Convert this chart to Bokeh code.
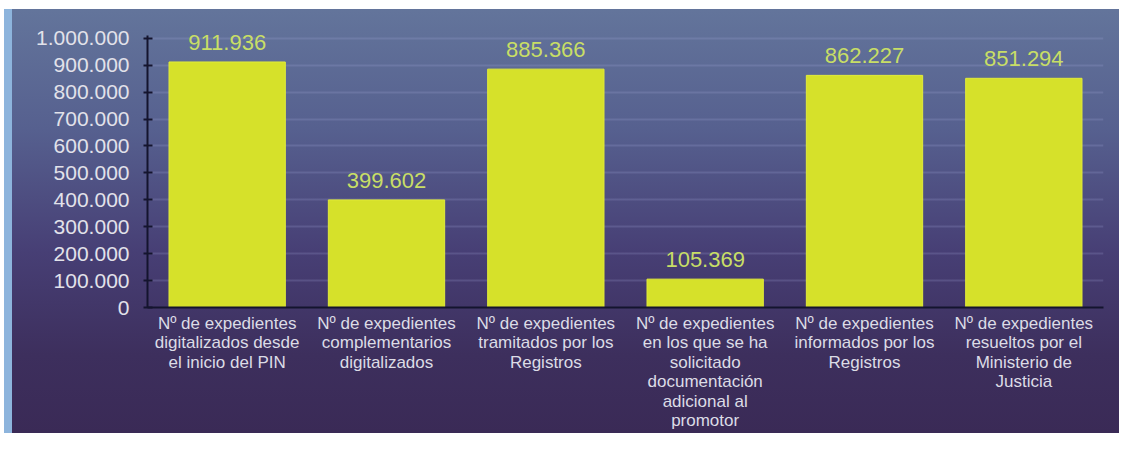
from bokeh.plotting import figure
from bokeh.models import ColumnDataSource, FactorRange, Range1d, FixedTicker, CustomJSTickFormatter
from bokeh.core.properties import value
from bokeh.embed import file_html
from bokeh.resources import INLINE

categories = [
    "Nº de expedientes\ndigitalizados desde\nel inicio del PIN",
    "Nº de expedientes\ncomplementarios\ndigitalizados",
    "Nº de expedientes\ntramitados por los\nRegistros",
    "Nº de expedientes\nen los que se ha\nsolicitado\ndocumentación\nadicional al\npromotor",
    "Nº de expedientes\ninformados por los\nRegistros",
    "Nº de expedientes\nresueltos por el\nMinisterio de\nJusticia",
]
values = [911936, 399602, 885366, 105369, 862227, 851294]
y_ticks = [0, 100000, 200000, 300000, 400000, 500000, 600000, 700000, 800000, 900000, 1000000]

labels = [f"{v:,}".replace(",", ".") for v in values]
src = ColumnDataSource(dict(cat=categories, val=values, lab=labels))

FONT = "Liberation Sans"

p = figure(
    width=1119, height=433,
    x_range=FactorRange(factors=categories, range_padding=0),
    y_range=Range1d(0, 1040000),
    output_backend="svg", toolbar_location=None,
    min_border_left=147, min_border_right=16, min_border_top=27, min_border_bottom=123,
    styles={
        "background-image": "linear-gradient(to bottom, #ffffff 0px, #ffffff 9px, transparent 9px), "
                            "linear-gradient(to right, #ffffff 0px, #ffffff 4px, #8db4dc 4px, #8db4dc 12px, transparent 12px), "
                            "linear-gradient(to bottom, #64769c 0%, #56608f 30%, #473f75 58%, #3d2f5d 82%, #3a2a56 100%)",
    },
)
p.border_fill_color = None
p.background_fill_color = None
p.outline_line_color = None

p.vbar(x="cat", top="val", width=0.73, source=src,
       fill_color="#d6e12a", line_color="#e2ec3a", line_width=1)

p.text(x="cat", y="val", text="lab", source=src,
       text_align="center", text_baseline="bottom", y_offset=-12,
       text_font=value(FONT), text_font_size="22px", text_color="#c8de66")

# grid
p.xgrid.grid_line_color = None
p.ygrid.ticker = FixedTicker(ticks=y_ticks)
p.ygrid.grid_line_color = "#aab0e0"
p.ygrid.grid_line_alpha = 0.2
p.ygrid.grid_line_width = 2
p.ygrid.level = "image"

# y axis
ya = p.yaxis[0]
ya.ticker = FixedTicker(ticks=y_ticks)
ya.bounds = (0, 1012000)
ya.formatter = CustomJSTickFormatter(code="return tick.toFixed(0).replace(/\\B(?=(\\d{3})+(?!\\d))/g, '.');")
ya.axis_line_color = "#14142e"
ya.axis_line_width = 2
ya.major_tick_line_color = "#14142e"
ya.major_tick_line_width = 2
ya.major_tick_in = 5
ya.major_tick_out = 4
ya.minor_tick_line_color = None
ya.major_label_standoff = 14
ya.major_label_text_font = FONT
ya.major_label_text_font_size = "21px"
ya.major_label_text_color = "#e2e2ea"

# x axis
xa = p.xaxis[0]
xa.axis_line_color = "#14142e"
xa.axis_line_width = 2
xa.major_tick_line_color = None
xa.major_tick_in = 0
xa.major_tick_out = 0
xa.minor_tick_line_color = None
xa.minor_tick_in = 0
xa.minor_tick_out = 0
xa.major_label_standoff = 6
xa.major_label_text_font = FONT
xa.major_label_text_font_size = "17px"
xa.major_label_text_color = "#dcdce6"
xa.major_label_text_line_height = 1.03
xa.major_label_orientation = "horizontal"

open("out.html", "w").write(file_html(p, INLINE))
